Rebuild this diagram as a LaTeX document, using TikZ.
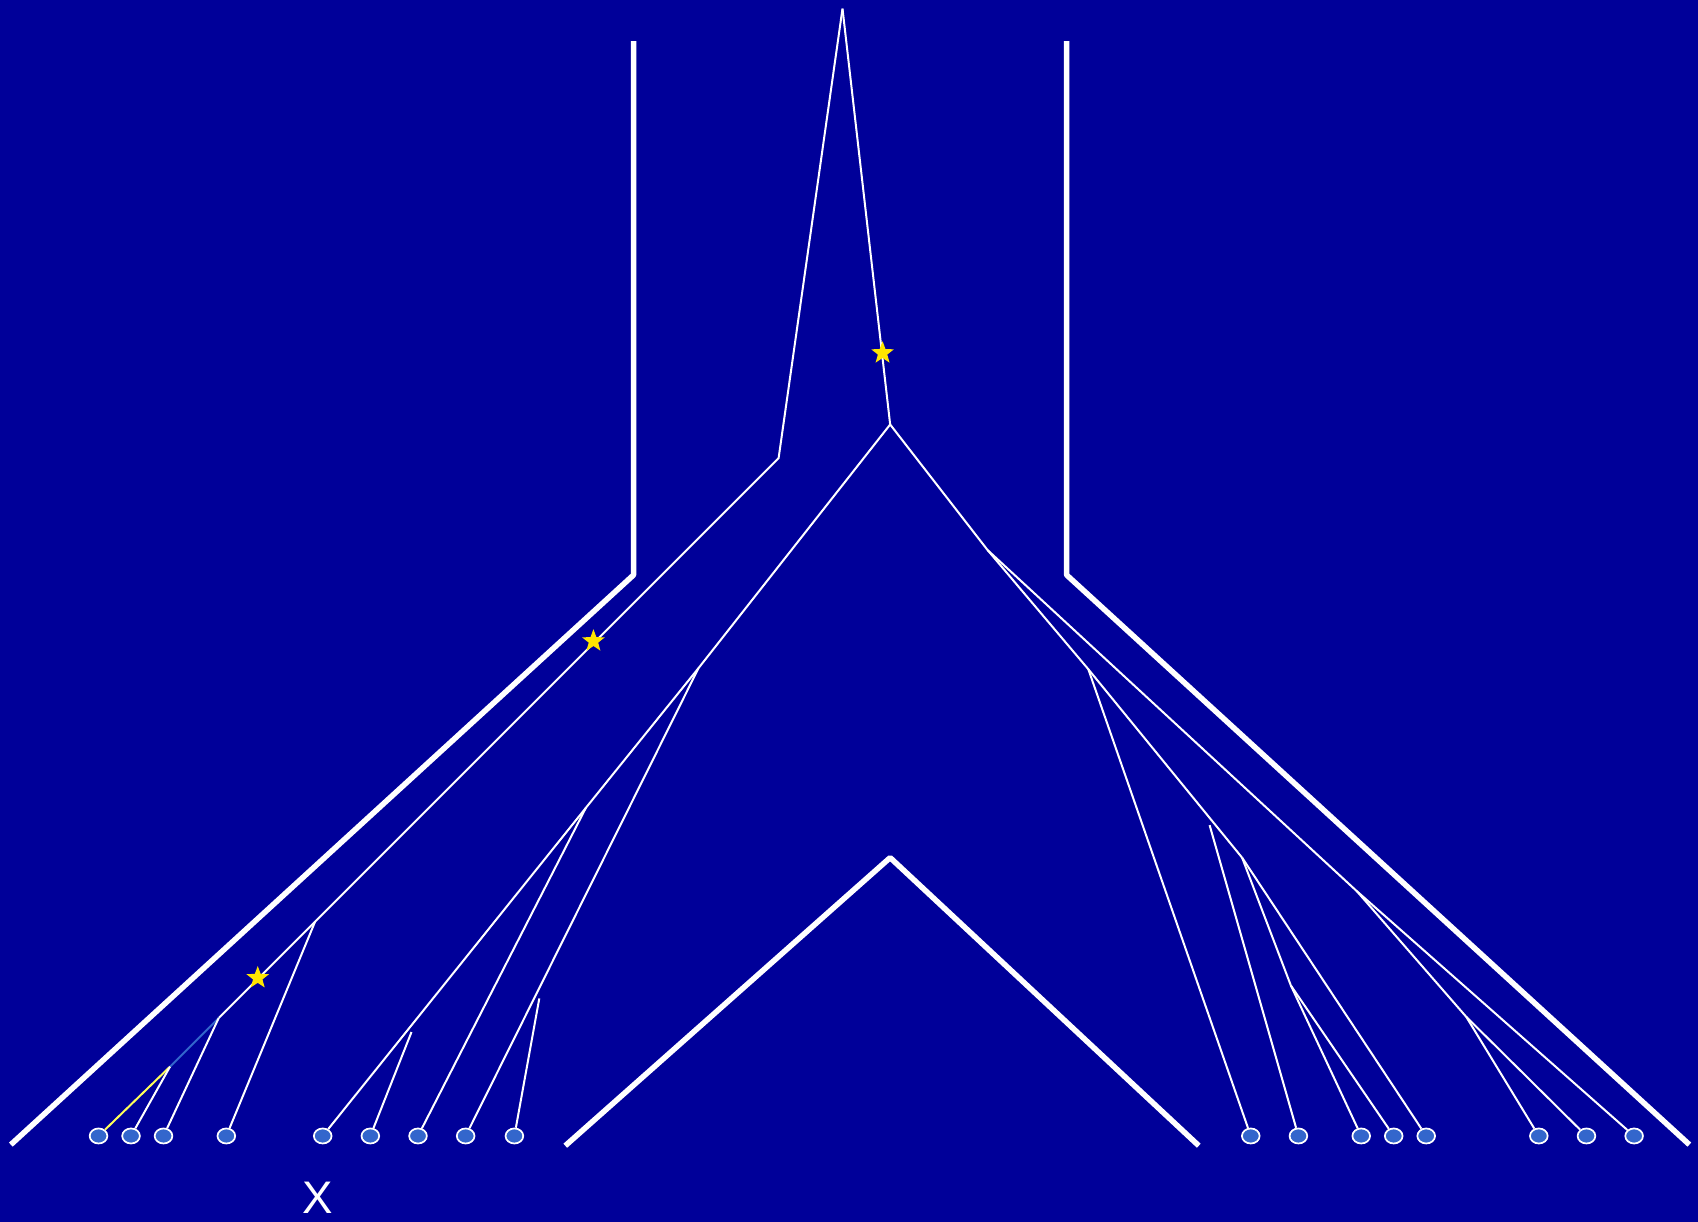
\documentclass[tikz,border=0pt]{standalone}
\usepackage{fontspec}
\setmainfont{Liberation Sans}
\usetikzlibrary{shapes.geometric}
\definecolor{bg}{RGB}{0,0,153}
\definecolor{leafblue}{RGB}{51,102,204}
\definecolor{staryellow}{RGB}{255,230,0}
\definecolor{paleyellow}{RGB}{255,255,90}
\begin{document}
\begin{tikzpicture}[x=0.02cm,y=-0.02cm,
  tube/.style={white,line width=2.9pt,line join=bevel},
  branch/.style={white,line width=1.05pt},
  bluebranch/.style={leafblue,line width=1.05pt},
  yellowbranch/.style={paleyellow,line width=1.05pt},
  leaf/.style={ellipse,draw=white,fill=leafblue,line width=0.9pt,inner sep=0pt,minimum width=9.3pt,minimum height=7.9pt},
  starmark/.style={star,star points=5,star point ratio=2.4,fill=staryellow,inner sep=0pt,minimum size=12.5pt},
  label/.style={text=white,font=\fontsize{24}{29}\selectfont,inner sep=0pt}]
\fill[bg] (0,0) rectangle (1568,1128);
\useasboundingbox (0,0) rectangle (1568,1128);

% tube outlines
\coordinate (tl1) at (585,38); \coordinate (tl2) at (585,531); \coordinate (tl3) at (10,1057);
\coordinate (tr1) at (985,38); \coordinate (tr2) at (985,531); \coordinate (tr3) at (1560,1057);
\coordinate (v1) at (522,1058); \coordinate (v2) at (822,792); \coordinate (v3) at (1107,1058);
\draw[tube] (tl1) -- (tl2) -- (tl3);
\draw[tube] (tr1) -- (tr2) -- (tr3);
\draw[tube] (v1) -- (v2) -- (v3);

% internal points
\coordinate (A) at (778,8);
\coordinate (L1) at (719,423);
\coordinate (LA) at (291,851);
\coordinate (LB) at (202,940);
\coordinate (LC) at (157,985);
\coordinate (R1) at (822,392);
\coordinate (RA) at (645,617);
\coordinate (RB) at (541,746);
\coordinate (RC) at (380,953);
\coordinate (RD) at (498,922);
\coordinate (RI) at (912,508);
\coordinate (RE) at (1005,618);
\coordinate (RH) at (1117,762);
\coordinate (RF) at (1147,792);
\coordinate (RG) at (1192,910);
\coordinate (N) at (1253,823);
\coordinate (M) at (1354,939);

% leaves
\foreach \n/\x in {l1/91,l2/121,l3/151,l4/209,l5/298,l6/342,l7/386,l8/430,l9/475,
                   r1/1155,r2/1199,r3/1257,r4/1287,r5/1317,r6/1421,r7/1465,r8/1509}
  \node[leaf] (\n) at (\x,1049) {};

% left clade
\draw[branch] (A) -- (L1) -- (LA) -- (LB);
\draw[bluebranch] (LB) -- (LC);
\draw[yellowbranch] (LC) -- (l1);
\draw[branch] (LC) -- (l2);
\draw[branch] (LB) -- (l3);
\draw[branch] (LA) -- (l4);

% middle clade
\draw[branch] (A) -- (R1) -- (RA) -- (RB) -- (l5);
\draw[branch] (RC) -- (l6);
\draw[branch] (RB) -- (l7);
\draw[branch] (RA) -- (l8);
\draw[branch] (RD) -- (l9);

% right clade
\draw[branch] (R1) -- (RI) -- (RE) -- (RF);
\draw[branch] (RE) -- (r1);
\draw[branch] (RH) -- (r2);
\draw[branch] (RF) -- (RG) -- (r3);
\draw[branch] (RG) -- (r4);
\draw[branch] (RF) -- (r5);
\draw[branch] (RI) -- (N) -- (r8);
\draw[branch] (N) -- (M) -- (r6);
\draw[branch] (M) -- (r7);

% stars
\node[starmark] (s1) at (815,326) {};
\node[starmark] (s2) at (548,592) {};
\node[starmark] (s3) at (238,903) {};

% label
\node[label] (xl) at (293,1106) {X};
\end{tikzpicture}
\end{document}
